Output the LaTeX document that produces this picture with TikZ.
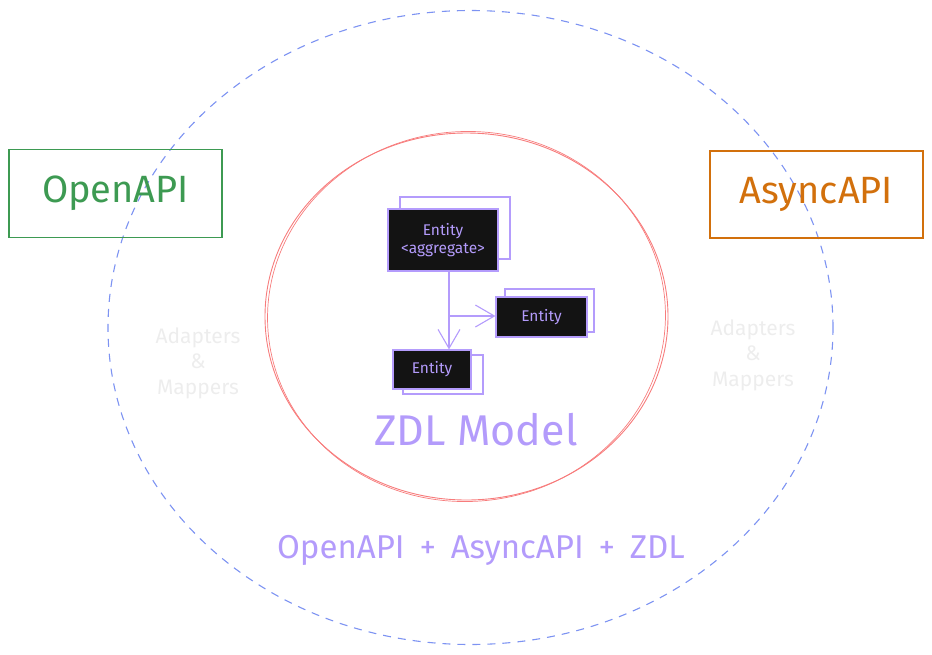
\documentclass[tikz,border=0pt]{standalone}
\usepackage{fontspec}
\setmainfont{Fira Sans}
\usetikzlibrary{shapes.geometric,arrows.meta,calc}
\definecolor{dashblue}{HTML}{7D93F2}
\definecolor{zred}{HTML}{F77C7C}
\definecolor{zgreen}{HTML}{3D9A52}
\definecolor{zorange}{HTML}{D2700C}
\definecolor{zpurple}{HTML}{B39BFB}
\definecolor{epurple}{HTML}{B49CFC}
\definecolor{efill}{HTML}{131313}
\definecolor{faint}{HTML}{EDEDED}
\tikzset{
  apibox/.style={draw, line width=1.3pt, minimum width=213pt, minimum height=88pt, inner sep=0pt},
  entbox/.style={draw=epurple, fill=efill, line width=1.1pt, inner sep=0pt, text=zpurple, font=\fontsize{15.5}{19}\selectfont, align=center},
  shadowbox/.style={draw=epurple, line width=1.1pt},
  arr/.style={draw=epurple, line width=1.1pt, -{Straight Barb[length=19pt,width=22pt,line width=1.1pt]}},
  faintlbl/.style={text=faint, font=\fontsize{21}{25.5}\selectfont, align=center},
}
\begin{document}
\begin{tikzpicture}[x=1pt,y=-1pt]
\useasboundingbox (0,0) rectangle (932,654);
% outer dashed ellipse
\node[ellipse, draw=dashblue, line width=1.1pt, dash pattern=on 8pt off 7pt, minimum width=725pt, minimum height=634pt, inner sep=0pt] (outer) at (470.5,327.5) {};
% red sketchy circle
\node[ellipse, draw=zred, line width=0.9pt, minimum width=403pt, minimum height=367pt, inner sep=0pt] (zdl) at (466.5,316.5) {};
\draw[zred, line width=0.7pt] (466.5,316.5) ellipse [x radius=199pt, y radius=185pt, rotate=3];
% API boxes
\node[apibox, draw=zgreen, text=zgreen, font=\fontsize{38}{40}\selectfont] (openapi) at (115.5,193.5) {OpenAPI};
\node[apibox, draw=zorange, text=zorange, font=\fontsize{38}{40}\selectfont, minimum height=87pt] (asyncapi) at (816.5,194.5) {AsyncAPI};
% shadow outlines
\draw[shadowbox] (400,197) rectangle (510,259);
\draw[shadowbox] (505,289) rectangle (594,332);
\draw[shadowbox] (403,355) rectangle (483,394);
% entity boxes
\node[entbox, minimum width=110pt, minimum height=62pt] (agg) at (443,240) {Entity\\[-1pt]<aggregate>};
\node[entbox, minimum width=91pt, minimum height=40pt] (ent2) at (541.5,317) {Entity};
\node[entbox, minimum width=78pt, minimum height=39pt] (ent3) at (432,369.5) {Entity};
% connectors
\coordinate (ax) at (449,0);
\coordinate (bj) at (449,316);
\draw[arr] (ax |- agg.south) -- (ax |- ent3.north);
\draw[arr] (bj) -- (bj -| ent2.west);
% labels
\node[text=zpurple, font=\fontsize{43}{46}\selectfont] (zdllbl) at (476,430) {ZDL Model};
\node[text=zpurple, font=\fontsize{33}{36}\selectfont] (combo) at (481,550) {OpenAPI\hspace{0.45em}+\hspace{0.45em}AsyncAPI\hspace{0.45em}+\hspace{0.45em}ZDL};
\node[faintlbl] (adl) at (198,363) {Adapters\\\&\\Mappers};
\node[faintlbl] (adr) at (753,355) {Adapters\\\&\\Mappers};
\end{tikzpicture}
\end{document}
